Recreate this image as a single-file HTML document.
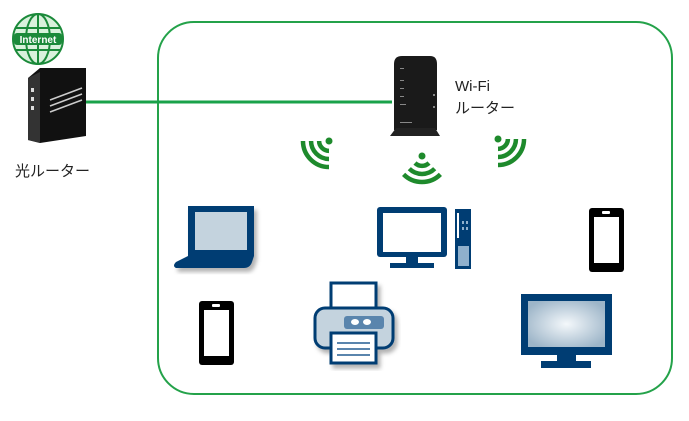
<!DOCTYPE html>
<html><head><meta charset="utf-8"><style>
body{margin:0;background:#fff;width:689px;height:416px;overflow:hidden;font-family:"Liberation Sans","Noto Sans CJK JP",sans-serif}
</style></head><body>
<svg width="689" height="416" viewBox="0 0 689 416" xmlns="http://www.w3.org/2000/svg">
<defs>
<radialGradient id="tv" cx="50%" cy="50%" r="60%"><stop offset="0" stop-color="#f4f8fb"/><stop offset="1" stop-color="#9db5c8"/></radialGradient>
<filter id="sh"><feDropShadow dx="3" dy="4" stdDeviation="2" flood-color="#000" flood-opacity="0.3"/></filter>
<g id="wf" fill="none" stroke="#1e8a2c" stroke-width="4.5">
<circle cx="0" cy="0" r="3.5" fill="#1e8a2c" stroke="none"/>
<path d="M-7,7 A10,10 0 0 0 7,7"/><path d="M-12.7,12.7 A18,18 0 0 0 12.7,12.7"/><path d="M-18.4,18.4 A26,26 0 0 0 18.4,18.4"/>
</g>
</defs>
<rect x="158" y="22" width="514" height="372" rx="36" fill="none" stroke="#24a24a" stroke-width="2"/>
<line x1="86" y1="102" x2="392" y2="102" stroke="#1aa24a" stroke-width="3"/>
<!-- globe -->
<g stroke="#1b8a3a" fill="none" stroke-width="2">
<circle cx="38" cy="39" r="25" fill="#d9f1dc"/>
<ellipse cx="38" cy="39" rx="12" ry="25"/>
<line x1="38" y1="14" x2="38" y2="64"/>
<line x1="15" y1="28" x2="61" y2="28"/><line x1="15" y1="50" x2="61" y2="50"/>
</g>
<rect x="14" y="33" width="48" height="12" rx="3" fill="#1b8a3a"/>
<text x="38" y="43" font-size="10" font-weight="bold" fill="#fff" text-anchor="middle">Internet</text>
<!-- optical router -->
<polygon points="28,78 40,68 86,68 86,136 40,143 28,140" fill="#111"/>
<polygon points="28,78 40,72 40,143 28,140" fill="#333"/>
<rect x="31" y="88" width="3" height="4" fill="#ddd"/><rect x="31" y="97" width="3" height="4" fill="#ddd"/><rect x="31" y="106" width="3" height="4" fill="#ddd"/>
<g stroke="#ccc" stroke-width="1.5"><line x1="50" y1="100" x2="82" y2="88"/><line x1="50" y1="106" x2="82" y2="94"/><line x1="50" y1="112" x2="82" y2="100"/></g>
<text x="15" y="176" font-size="15" fill="#222">光ルーター</text>
<!-- wifi router -->
<path d="M394,64 Q394,56 402,56 L430,56 Q437,56 437,64 L437,130 L394,130 Z" fill="#1a1a1a"/>
<polygon points="396,128 435,128 440,136 390,136" fill="#222"/>
<g fill="#888"><rect x="400" y="68" width="4" height="1"/><rect x="400" y="80" width="4" height="1"/><rect x="400" y="88" width="4" height="1"/><rect x="400" y="96" width="4" height="1"/><rect x="400" y="104" width="6" height="1"/><rect x="400" y="122" width="12" height="1"/><rect x="433" y="94" width="2" height="2"/><rect x="433" y="106" width="2" height="2"/></g>
<text x="455" y="91" font-size="15" fill="#222">Wi-Fi</text>
<text x="455" y="113" font-size="15" fill="#222">ルーター</text>
<!-- wifi icons -->
<use href="#wf" transform="translate(329,141) rotate(45)"/>
<use href="#wf" transform="translate(422,156)"/>
<use href="#wf" transform="translate(498,139) rotate(-45)"/>
<!-- laptop -->
<g filter="url(#sh)">
<rect x="188" y="206" width="66" height="50" fill="#003d73"/>
<rect x="195" y="212" width="52" height="38" fill="#c4d3de"/>
<path d="M188,256 L254,256 L252,262 Q250,268 244,268 L176,268 Q172,266 176,262 Z" fill="#003d73"/>
</g>
<!-- desktop -->
<rect x="377" y="207" width="70" height="50" rx="3" fill="#003d73"/>
<rect x="383" y="213" width="58" height="39" fill="#fff"/>
<rect x="406" y="257" width="12" height="6" fill="#003d73"/>
<rect x="390" y="263" width="44" height="5" fill="#003d73"/>
<rect x="455" y="209" width="16" height="60" fill="#003d73"/>
<rect x="457" y="213" width="2" height="25" fill="#fff"/>
<g fill="#8fb0cc"><rect x="462" y="221" width="2" height="3"/><rect x="466" y="221" width="2" height="3"/><rect x="462" y="227" width="2" height="3"/><rect x="466" y="227" width="2" height="3"/><rect x="458" y="246" width="11" height="20"/></g>
<!-- phones -->
<rect x="589" y="208" width="35" height="64" rx="3" fill="#000"/><rect x="594" y="217" width="25" height="46" fill="#fff"/><rect x="602" y="211" width="8" height="3" rx="1" fill="#fff"/>
<rect x="199" y="301" width="35" height="64" rx="3" fill="#000"/><rect x="204" y="310" width="25" height="46" fill="#fff"/><rect x="212" y="304" width="8" height="3" rx="1" fill="#fff"/>
<!-- printer -->
<g filter="url(#sh)">
<rect x="331" y="283" width="45" height="35" fill="#fff" stroke="#003d73" stroke-width="3"/>
<rect x="315" y="308" width="78" height="40" rx="10" fill="#c4d3de" stroke="#003d73" stroke-width="3"/>
<rect x="344" y="316" width="40" height="13" rx="3" fill="#5a85ad"/>
<ellipse cx="355" cy="322" rx="4" ry="3" fill="#fff"/><ellipse cx="367" cy="322" rx="4" ry="3" fill="#fff"/>
<rect x="331" y="333" width="45" height="30" fill="#fff" stroke="#003d73" stroke-width="3"/>
<g stroke="#5a85ad" stroke-width="2"><line x1="337" y1="343" x2="370" y2="343"/><line x1="337" y1="349" x2="370" y2="349"/><line x1="337" y1="355" x2="370" y2="355"/></g>
</g>
<!-- tv -->
<rect x="521" y="294" width="91" height="61" fill="#003d73"/>
<rect x="528" y="301" width="77" height="46" fill="url(#tv)"/>
<rect x="557" y="355" width="19" height="7" fill="#003d73"/>
<rect x="541" y="361" width="50" height="7" fill="#003d73"/>
</svg>
</body></html>
